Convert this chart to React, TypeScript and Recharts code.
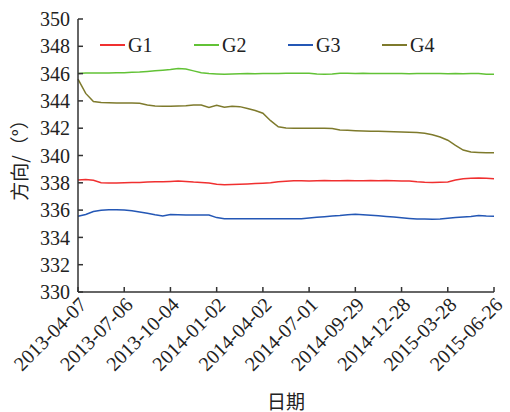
import { LineChart, Line, XAxis, YAxis } from 'recharts';

// day offsets from 2013-04-07
const days = [
  0, 15, 30, 45, 60, 75, 90, 105, 120, 135, 150, 165, 180, 195, 210, 225, 240, 255, 270, 285,
  300, 315, 330, 345, 360, 375, 390, 405, 420, 435, 450, 465, 480, 495, 510, 525, 540, 555, 570, 585,
  600, 615, 630, 645, 660, 675, 690, 705, 720, 735, 750, 765, 780, 795, 810,
];

const g1 = [
  338.2, 338.25, 338.18, 338.0, 337.98, 337.98, 338.0, 338.02, 338.03, 338.05, 338.07, 338.08, 338.1, 338.13, 338.1, 338.05, 338.02, 337.98, 337.9, 337.86,
  337.88, 337.9, 337.92, 337.95, 337.97, 338.0, 338.08, 338.12, 338.15, 338.15, 338.14, 338.15, 338.16, 338.15, 338.15, 338.16, 338.15, 338.15, 338.16, 338.15,
  338.16, 338.15, 338.14, 338.13, 338.07, 338.04, 338.03, 338.04, 338.06, 338.2, 338.3, 338.33, 338.35, 338.33, 338.3,
];
const g2 = [
  346.0, 346.04, 346.05, 346.04, 346.05, 346.06, 346.07, 346.1, 346.12, 346.16, 346.2, 346.25, 346.3, 346.38, 346.33, 346.2, 346.07, 346.0, 345.97, 345.95,
  345.97, 345.98, 346.0, 345.99, 346.0, 346.0, 346.01, 346.02, 346.02, 346.02, 346.02, 345.97, 345.96, 345.97, 346.02, 346.02, 346.01, 346.02, 346.01, 346.0,
  346.0, 346.01, 346.0, 345.99, 346.0, 346.0, 346.0, 346.0, 345.99, 346.0, 345.99, 346.0, 346.0, 345.96, 345.95,
];
const g3 = [
  335.55, 335.68, 335.9, 335.99, 336.03, 336.02, 336.0, 335.95, 335.86, 335.77, 335.66, 335.57, 335.68, 335.66, 335.64, 335.64, 335.65, 335.64, 335.45, 335.37,
  335.36, 335.36, 335.36, 335.36, 335.36, 335.36, 335.36, 335.36, 335.36, 335.36, 335.42, 335.47, 335.52, 335.56, 335.6, 335.66, 335.7, 335.66, 335.62, 335.58,
  335.54, 335.49, 335.44, 335.39, 335.35, 335.34, 335.33, 335.34, 335.4, 335.45, 335.5, 335.54, 335.6, 335.56, 335.55,
];
const g4 = [
  345.6, 344.55, 343.95, 343.88, 343.86, 343.85, 343.85, 343.84, 343.82, 343.7, 343.62, 343.6, 343.6, 343.62, 343.65, 343.7, 343.7, 343.52, 343.68, 343.53,
  343.6, 343.58, 343.45, 343.3, 343.1, 342.55, 342.1, 342.02, 342.0, 342.0, 342.0, 342.0, 341.99, 341.98, 341.87, 341.85, 341.82, 341.8, 341.78, 341.77,
  341.75, 341.74, 341.72, 341.7, 341.68, 341.63, 341.52, 341.35, 341.12, 340.75, 340.4, 340.25, 340.22, 340.2, 340.2,
];

const tickDays = [0, 90, 180, 270, 360, 450, 540, 630, 720, 810];
const tickLabels = [
  '2013-04-07', '2013-07-06', '2013-10-04', '2014-01-02', '2014-04-02',
  '2014-07-01', '2014-09-29', '2014-12-28', '2015-03-28', '2015-06-26',
];
const yTicks = [330, 332, 334, 336, 338, 340, 342, 344, 346, 348, 350];

const series = [
  { key: 'G1', label: 'G1', color: '#f03030', values: g1 },
  { key: 'G2', label: 'G2', color: '#62c236', values: g2 },
  { key: 'G3', label: 'G3', color: '#2457b5', values: g3 },
  { key: 'G4', label: 'G4', color: '#7e7a2c', values: g4 },
];

const data = days.map((d, i) => ({ day: d, G1: g1[i], G2: g2[i], G3: g3[i], G4: g4[i] }));

const FONT = '"Liberation Serif", "Times New Roman", serif';
const CJK = '"Noto Sans CJK SC", sans-serif';
const AXIS = '#333';

const DateTick = ({ x, y, index }: any) => (
  <text
    x={x + 5}
    y={y + 9}
    transform={`rotate(-45 ${x + 5} ${y + 9})`}
    textAnchor="end"
    dominantBaseline="central"
    fontFamily={FONT}
    fontSize={20}
    fill="#222"
  >
    {tickLabels[index]}
  </text>
);

const YLabel = ({ viewBox }: any) => {
  const cx = viewBox.x + 18;
  const cy = viewBox.y + viewBox.height / 2;
  return (
    <text x={cx} y={cy} transform={`rotate(-90 ${cx} ${cy})`} textAnchor="middle" dominantBaseline="central"
      fontFamily={CJK} fontSize={19} fill="#222">
      方向/（°）
    </text>
  );
};

const XLabel = ({ viewBox }: any) => (
  <text x={viewBox.x + viewBox.width / 2} y={viewBox.y + viewBox.height - 12} textAnchor="middle" dominantBaseline="central"
    fontFamily={CJK} fontSize={19} fill="#222">
    日期
  </text>
);

export default function App() {
  return (
    <div style={{ position: 'absolute', left: 0, top: 0, width: 510, height: 412, background: '#fff' }}>
      <LineChart width={510} height={412} data={data} margin={{ top: 19, right: 16, bottom: 0, left: 0 }}>
        <XAxis
          dataKey="day" type="number" domain={[0, 810]} ticks={tickDays}
          height={120} tickSize={-5} tickMargin={5} stroke={AXIS} strokeWidth={1.5}
          tick={<DateTick />}
          label={{ content: <XLabel /> }}
        />
        <XAxis xAxisId="top" orientation="top" dataKey="day" type="number" domain={[0, 810]} height={0} tick={false} tickLine={false} stroke={AXIS} strokeWidth={1.5} />
        <YAxis
          domain={[330, 350]} ticks={yTicks} width={78} tickSize={-5} tickMargin={13}
          stroke={AXIS} strokeWidth={1.5} interval={0}
          tick={{ fontFamily: FONT, fontSize: 20, fill: '#222' }}
          label={{ content: <YLabel /> }}
        />
        <YAxis yAxisId="right" orientation="right" domain={[330, 350]} width={0} tick={false} tickLine={false} stroke={AXIS} strokeWidth={1.5} />
        {series.map((s) => (
          <Line key={s.key} dataKey={s.key} stroke={s.color} strokeWidth={1.5} dot={false} isAnimationActive={false} type="linear" />
        ))}
      </LineChart>
      <div style={{ position: 'absolute', left: 100, top: 33, display: 'flex', fontFamily: FONT, fontSize: 20, color: '#222' }}>
        {series.map((s) => (
          <div key={s.key} style={{ width: 94, display: 'flex', alignItems: 'center', height: 24 }}>
            <span style={{ display: 'inline-block', width: 25, height: 2, background: s.color, marginRight: 3 }} />
            <span>{s.label}</span>
          </div>
        ))}
      </div>
    </div>
  );
}
